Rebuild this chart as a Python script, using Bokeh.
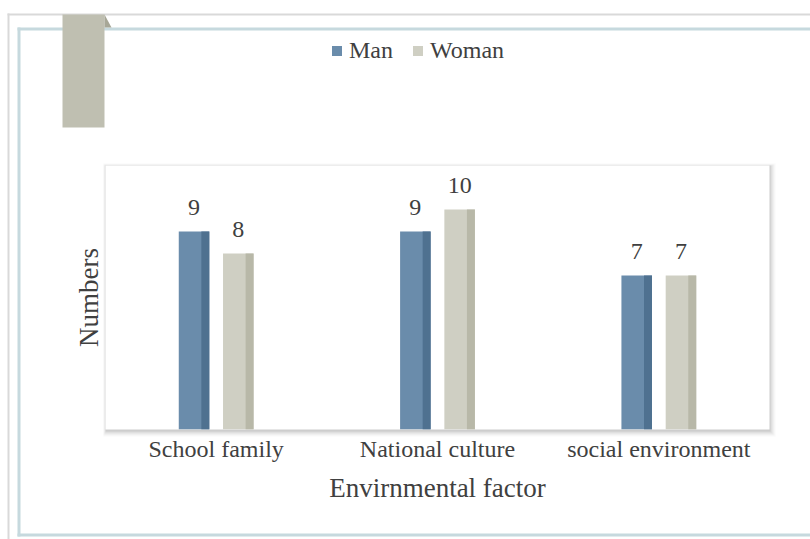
from bokeh.plotting import figure
from bokeh.models import (ColumnDataSource, FactorRange, Range1d, FixedTicker, LabelSet,
                          Legend, LegendItem)
from bokeh.transform import dodge
from bokeh.embed import file_html
from bokeh.resources import INLINE

categories = ["School family", "National culture", "social environment"]
man = [9, 9, 7]
woman = [8, 10, 7]
series = ["Man", "Woman"]

FONT = "Liberation Serif"
TXT = "#404040"
MAN_C, MAN_D = "#6a8cab", "#4f7190"
WOM_C, WOM_D = "#cfcfc3", "#b8b8a8"

W, H = 810, 539
FL, FR, FT, FB = 105, 769, 165, 429   # plot-area frame in page pixels

# ---------------- background layer: frame decoration, shadow, legend ----------------
bg = figure(width=W, height=H, x_range=Range1d(0, W), y_range=Range1d(H, 0),
            x_axis_type=None, y_axis_type=None, output_backend="svg", toolbar_location=None,
            min_border=0)
bg.outline_line_color = None
bg.grid.visible = False
bg.background_fill_color = "white"
bg.border_fill_color = "white"

# outer grey frame
bg.quad(left=[7, 7], right=[9, W], top=[13, 13], bottom=[H, 15], fill_color="#d9d9d9", line_color=None)
# inner blue-grey frame
bg.quad(left=[17, 17, 17], right=[20, W, W], top=[27, 27, 533], bottom=[536, 30, 536],
        fill_color="#c6d9de", line_color=None)
# bookmark banner
bg.quad(left=[62], right=[104], top=[14], bottom=[127], fill_color="#bfbfb1", line_color=None)
bg.patch(x=[104, 111, 104], y=[14, 27, 27], fill_color="#a7a797", line_color=None)

# soft shadow around the plot area
for dl, dr, dt, db, a in [(2, 6, 2, 7, 0.03), (2, 5, 1, 6, 0.04), (1, 4, 1, 5, 0.05),
                          (1, 3, 0, 4, 0.06), (0, 2, 0, 3, 0.08), (0, 1, 0, 2, 0.10)]:
    bg.quad(left=[FL - dl], right=[FR + dr], top=[FT - dt], bottom=[FB + db],
            fill_color="#606060", fill_alpha=a, line_color=None)

# legend swatches (renderers kept off-canvas, only used by the legend)
dummy = ColumnDataSource(dict(x=[-1000], y=[-1000]))
lm = bg.scatter(x="x", y="y", marker="square", size=10, source=dummy, fill_color=MAN_C, line_color=None)
lw = bg.scatter(x="x", y="y", marker="square", size=10, source=dummy, fill_color=WOM_C, line_color=None)
legend = Legend(items=[LegendItem(label=series[0], renderers=[lm]),
                       LegendItem(label=series[1], renderers=[lw])],
                location=(324, 475), orientation="horizontal", padding=2, spacing=12,
                label_standoff=-1, glyph_width=25, glyph_height=25,
                label_text_font=FONT, label_text_font_size="24px", label_text_color=TXT,
                border_line_color=None, background_fill_alpha=0)
bg.add_layout(legend, "center")

# ---------------- main chart layer ----------------
src = ColumnDataSource(dict(cat=categories, man=man, woman=woman,
                            man_lbl=[str(v) for v in man], woman_lbl=[str(v) for v in woman]))

p = figure(width=W, height=H, x_range=FactorRange(*categories, range_padding=0),
           y_range=Range1d(0, 12), output_backend="svg", toolbar_location=None,
           min_border_left=FL, min_border_right=W - FR, min_border_top=FT, min_border_bottom=H - FB)
p.styles = {"position": "absolute", "left": "0px", "top": "0px"}
p.border_fill_alpha = 0
p.background_fill_color = "white"
p.outline_line_color = None
p.xgrid.visible = False
p.ygrid.visible = False

off = 0.1
bw = 0.138
dw = 0.036
r_man = p.vbar(x=dodge("cat", -off, range=p.x_range), top="man", width=bw, source=src,
               fill_color=MAN_C, line_color=None)
p.vbar(x=dodge("cat", -off + bw / 2 - dw / 2, range=p.x_range), top="man", width=dw, source=src,
       fill_color=MAN_D, line_color=None)
r_wom = p.vbar(x=dodge("cat", off, range=p.x_range), top="woman", width=bw, source=src,
               fill_color=WOM_C, line_color=None)
p.vbar(x=dodge("cat", off + bw / 2 - dw / 2, range=p.x_range), top="woman", width=dw, source=src,
       fill_color=WOM_D, line_color=None)

for fld, lbl, o in [("man", "man_lbl", -off), ("woman", "woman_lbl", off)]:
    p.add_layout(LabelSet(x=dodge("cat", o, range=p.x_range), y=fld, text=lbl, source=src,
                          y_offset=17, text_align="center", text_baseline="bottom",
                          text_font=FONT, text_font_size="24px", text_color=TXT))

xa = p.xaxis[0]
xa.axis_label = "Envirnmental factor"
xa.axis_line_color = None
xa.major_tick_line_color = None
xa.minor_tick_line_color = None
xa.major_label_standoff = 0
xa.major_label_text_font = FONT
xa.major_label_text_font_size = "24px"
xa.major_label_text_color = TXT
xa.axis_label_text_font = FONT
xa.axis_label_text_font_size = "27px"
xa.axis_label_text_font_style = "normal"
xa.axis_label_text_color = TXT
xa.axis_label_standoff = 8

ya = p.yaxis[0]
ya.ticker = FixedTicker(ticks=[])
ya.axis_label = "Numbers"
ya.axis_line_color = None
ya.major_tick_line_color = None
ya.minor_tick_line_color = None
ya.axis_label_text_font = FONT
ya.axis_label_text_font_size = "27px"
ya.axis_label_text_font_style = "normal"
ya.axis_label_text_color = TXT
ya.axis_label_standoff = 2

open("out.html", "w").write(file_html([bg, p], INLINE))
